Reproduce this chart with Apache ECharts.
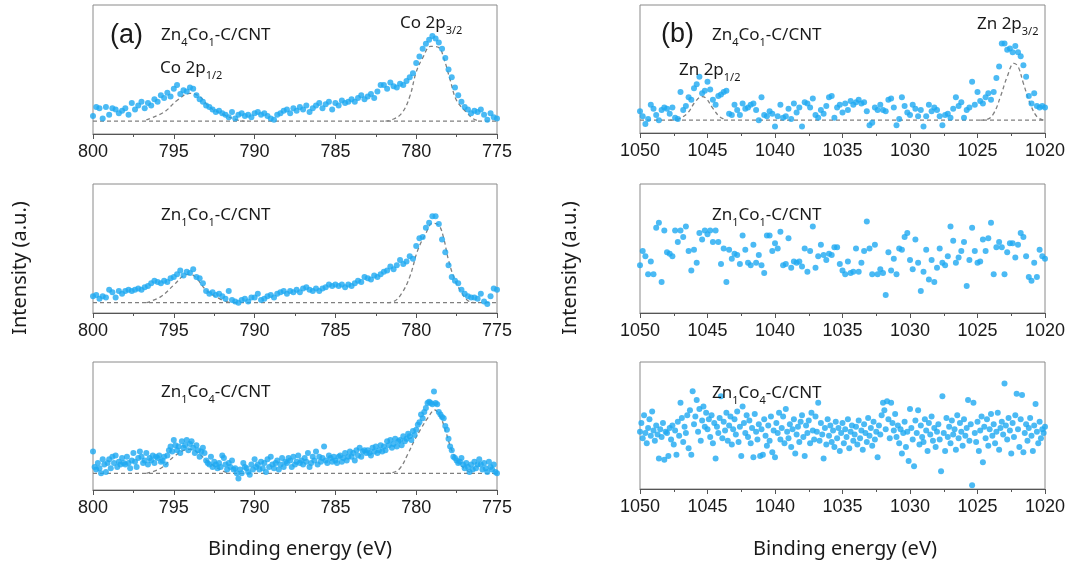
<!DOCTYPE html>
<html>
<head>
<meta charset="utf-8">
<script src="https://cdn.jsdelivr.net/npm/echarts@6/dist/echarts.min.js"></script>
<style>
  html, body { margin: 0; padding: 0; background: #fff; }
  #chart { width: 1074px; height: 568px; }
</style>
</head>
<body>
<div id="chart"></div>
<script>
// ---- data (intensity in a.u.) ----
// (a) Co 2p, 800 -> 775 eV
const coStart = 800
const coStep1 = 0.2
const coZn4Co1 = [
  14, 21, 20, 12, 21, 15, 20, 19, 16, 18,
  20, 15, 24, 19, 22, 25, 20, 24, 22, 27,
  25, 30, 28, 32, 29, 35, 38, 31, 34, 33,
  36, 35, 30, 27, 25, 22, 21, 19, 17, 18,
  16, 15, 13, 17, 12, 15, 16, 14, 15, 13,
  16, 17, 15, 16, 14, 12, 11, 15, 16, 18,
  19, 16, 20, 18, 21, 19, 22, 17, 20, 22,
  24, 20, 23, 25, 19, 24, 22, 26, 24, 25,
  27, 25, 28, 30, 27, 29, 31, 28, 33, 38,
  38, 35, 40, 37, 36, 39, 38, 41, 44, 47,
  55, 60, 66, 70, 73, 76, 74, 71, 66, 59,
  50, 44, 36, 30, 25, 21, 19, 16, 18, 17,
  19, 15, 11, 16, 13, 12
]
const coZn1Co1 = [
  13, 14, 11, 13, 12, 18, 16, 12, 17, 15,
  17, 18, 17, 18, 19, 18, 20, 21, 23, 25,
  24, 23, 25, 24, 27, 28, 30, 33, 29, 32,
  31, 34, 28, 27, 23, 17, 15, 16, 14, 15,
  13, 11, 17, 10, 9, 8, 10, 11, 9, 12,
  12, 15, 10, 11, 13, 14, 12, 15, 16, 17,
  15, 17, 16, 18, 16, 19, 20, 18, 17, 19,
  17, 19, 20, 22, 21, 22, 21, 22, 20, 22,
  21, 23, 25, 24, 28, 27, 26, 29, 28, 30,
  32, 33, 36, 34, 37, 41, 38, 40, 44, 42,
  52, 58, 59, 66, 70, 75, 75, 69, 57, 47,
  37, 28, 25, 23, 18, 15, 13, 12, 12, 11,
  15, 9, 7, 13, 19, 18
]
const coStep2 = 0.1
const coZn1Co4 = [
  30, 18, 16, 21, 17, 13, 24, 20, 14, 21,
  24, 17, 26, 21, 27, 18, 22, 20, 25, 21,
  20, 26, 21, 17, 23, 29, 22, 18, 25, 30,
  26, 21, 23, 29, 20, 25, 23, 27, 21, 26,
  25, 27, 22, 23, 26, 20, 27, 31, 34, 30,
  39, 35, 31, 34, 29, 38, 33, 35, 39, 31,
  36, 38, 33, 29, 35, 31, 26, 30, 33, 29,
  23, 21, 20, 26, 18, 22, 20, 17, 21, 18,
  27, 25, 20, 16, 21, 18, 23, 16, 17, 13,
  9, 16, 13, 21, 18, 17, 14, 12, 20, 16,
  24, 18, 20, 16, 22, 17, 21, 14, 24, 18,
  26, 20, 17, 21, 23, 16, 20, 25, 18, 22,
  21, 25, 23, 18, 26, 20, 22, 27, 21, 23,
  20, 25, 22, 29, 18, 21, 26, 23, 30, 20,
  26, 22, 25, 34, 23, 21, 27, 25, 22, 26,
  23, 21, 26, 27, 22, 25, 29, 23, 26, 30,
  26, 29, 23, 31, 27, 33, 26, 30, 31, 29,
  31, 29, 27, 33, 30, 34, 29, 31, 35, 30,
  34, 31, 38, 35, 39, 33, 36, 40, 34, 38,
  39, 35, 42, 38, 40, 44, 42, 39, 46, 43,
  47, 51, 53, 59, 56, 61, 64, 68, 69, 68,
  67, 77, 68, 67, 61, 59, 57, 56, 50, 47,
  40, 34, 31, 26, 25, 23, 21, 22, 25, 20,
  17, 21, 18, 14, 20, 16, 22, 17, 20, 24,
  20, 16, 21, 17, 14, 22, 18, 16, 20, 14, 13
]
// fitted peaks (dashed), [eV, a.u.]
const coFit1 = [
  [[796.7, 11], [795.6, 17], [794.8, 26], [794.0, 31.5], [793.4, 29], [792.8, 21], [791.9, 15], [791.1, 11], [790.6, 10]],
  [[781.9, 10], [781.5, 11], [780.9, 16], [780.4, 29], [780.0, 48], [779.6, 59], [779.1, 68], [778.6, 67], [778.3, 59], [777.9, 42], [777.5, 26], [776.9, 17], [776.5, 12], [776.1, 10]]
]
const coFit2 = [
  [[796.7, 8], [795.8, 12.7], [795.0, 21.7], [794.3, 29.5], [794.0, 30], [793.6, 27], [793.0, 17.8], [792.1, 10.6], [791.5, 8]],
  [[781.8, 8], [781.4, 8.8], [780.9, 15.2], [780.4, 28], [779.9, 48.8], [779.4, 61.8], [779.0, 69.5], [778.6, 68], [778.3, 58], [778.0, 41], [777.6, 25.6], [777.1, 14], [776.7, 8.8], [776.3, 8]]
]
const coFit3 = [
  [[796.7, 13], [795.8, 17], [795.0, 26], [794.3, 31.3], [794.0, 31.8], [793.6, 30], [793.0, 23.5], [792.1, 15.6], [791.5, 13]],
  [[781.9, 13], [781.5, 13.5], [781.0, 17], [780.5, 28.6], [780.1, 39], [779.7, 48], [779.3, 56], [778.85, 62.5], [778.5, 57], [778.2, 47], [777.8, 31], [777.4, 22], [776.9, 15.6], [776.5, 13]]
]
const coBase = [10, 8, 13]

// (b) Zn 2p, 1050 -> 1020 eV
const znStart = 1050
const znStep1 = 0.2
const znZn4Co1 = [
  17, 13, 7, 11, 22, 19, 14, 10, 18, 20,
  19, 15, 20, 12, 11, 32, 18, 21, 28, 26,
  35, 38, 44, 31, 33, 40, 34, 26, 22, 29,
  30, 32, 33, 15, 14, 22, 18, 14, 23, 19,
  20, 22, 23, 18, 10, 28, 14, 13, 17, 15,
  5, 13, 22, 12, 13, 19, 11, 23, 16, 20,
  5, 24, 23, 20, 27, 14, 12, 18, 15, 21,
  28, 29, 12, 20, 22, 16, 23, 18, 25, 22,
  24, 26, 23, 24, 17, 6, 8, 20, 18, 22,
  18, 17, 26, 27, 20, 6, 11, 28, 21, 16,
  14, 22, 19, 13, 18, 5, 13, 22, 17, 20,
  18, 13, 6, 14, 15, 12, 19, 28, 21, 24,
  12, 18, 20, 40, 22, 32, 25, 23, 28, 31,
  26, 32, 43, 52, 70, 70, 65, 66, 63, 68,
  63, 60, 53, 44, 29, 23, 31, 21, 20, 21,
  20
]
const znZn1Co1 = [
  37, 48, 44, 30, 40, 30, 66, 70, 24, 64,
  47, 46, 44, 64, 55, 64, 59, 67, 48, 33,
  49, 39, 62, 57, 64, 61, 64, 55, 64, 55,
  38, 50, 24, 49, 42, 46, 45, 38, 60, 49,
  39, 37, 53, 39, 45, 37, 31, 60, 60, 48,
  54, 50, 63, 37, 38, 58, 35, 40, 39, 40,
  36, 50, 32, 48, 67, 35, 44, 53, 45, 41,
  46, 45, 51, 51, 38, 33, 30, 40, 31, 32,
  50, 32, 39, 48, 71, 50, 30, 53, 30, 34,
  31, 14, 47, 33, 42, 30, 50, 49, 59, 62,
  41, 34, 57, 39, 17, 32, 49, 26, 41, 24,
  35, 50, 39, 37, 44, 67, 56, 39, 43, 48,
  55, 21, 41, 66, 48, 39, 40, 57, 48, 58,
  70, 30, 51, 55, 51, 30, 47, 54, 54, 43,
  53, 62, 59, 44, 28, 25, 39, 28, 49, 44,
  42
]
const znStep2 = 0.1
const znZn1Co4 = [
  45, 52, 40, 58, 44, 36, 48, 55, 42, 61,
  46, 38, 50, 43, 24, 47, 41, 52, 23, 45,
  44, 26, 48, 39, 50, 35, 46, 27, 53, 42,
  68, 56, 37, 49, 44, 58, 32, 62, 27, 77,
  51, 57, 70, 45, 63, 38, 54, 65, 49, 60,
  47, 55, 41, 58, 36, 52, 24, 49, 44, 56,
  73, 40, 53, 46, 60, 38, 50, 57, 35, 47,
  55, 43, 61, 37, 49, 26, 65, 52, 44, 58,
  41, 54, 36, 48, 25, 59, 45, 39, 51, 26,
  47, 27, 55, 42, 34, 50, 38, 57, 29, 46,
  25, 52, 44, 60, 39, 48, 57, 36, 63, 45,
  40, 51, 33, 47, 55, 28, 43, 49, 37, 53,
  58, 41, 26, 50, 44, 54, 36, 60, 46, 39,
  57, 45, 68, 38, 52, 43, 24, 48, 35, 55,
  42, 50, 37, 46, 33, 53, 40, 48, 30, 44,
  52, 36, 47, 41, 55, 32, 45, 50, 38, 43,
  49, 35, 54, 40, 46, 31, 51, 44, 37, 56,
  42, 48, 34, 53, 39, 45, 25, 50, 43, 58,
  68, 62, 47, 69, 55, 40, 68, 52, 46, 59,
  41, 50, 36, 47, 28, 44, 53, 33, 45, 22,
  63, 48, 39, 18, 54, 44, 62, 35, 50, 41,
  37, 55, 46, 30, 52, 43, 57, 38, 48, 33,
  45, 51, 39, 14, 73, 44, 30, 56, 41, 49,
  36, 54, 43, 47, 31, 58, 40, 52, 45, 34,
  55, 42, 48, 70, 38, 51, 3, 68, 44, 37,
  53, 30, 46, 57, 21, 49, 40, 55, 34, 47,
  59, 42, 51, 36, 45, 60, 31, 48, 53, 43,
  83, 50, 39, 56, 46, 28, 52, 41, 58, 75,
  47, 33, 55, 74, 29, 44, 51, 38, 48, 56,
  42, 30, 50, 67, 45, 36, 53, 40, 47, 44,
  49
]
const znFit1 = [
  [[1047.8, 10], [1047.3, 10.5], [1046.5, 15.3], [1045.9, 24.5], [1045.4, 28.4], [1045.1, 27], [1044.6, 19.3], [1044.1, 12.8], [1043.6, 10]],
  [[1024.8, 10], [1024.3, 10.5], [1023.8, 15.3], [1023.3, 28.4], [1022.8, 44], [1022.3, 54.4], [1022.0, 52], [1021.6, 38.8], [1021.1, 23], [1020.6, 12.8], [1020.1, 10]]
]
const znBase = 10

const coTicks = [800, 795, 790, 785, 780, 775]
const znTicks = [1050, 1045, 1040, 1035, 1030, 1025, 1020]

// ---- chart ----
const BLUE = '#1ea9f1'
const GREY = '#808080'
const TXT = '#1a1a1a'

function toPts (start, step, vals) {
  return vals.map((v, i) => [+(start - i * step).toFixed(2), v])
}

function sub (s) { return '{s|' + s + '}' }

function label (x, y, txt, size) {
  return {
    type: 'text', x, y, z: 10,
    style: {
      text: txt,
      font: (size || 17) + 'px "Noto Sans"',
      fill: TXT,
      verticalAlign: 'middle',
      rich: {
        s: { fontSize: 11, fontFamily: 'Noto Sans', fill: TXT, verticalAlign: 'bottom', lineHeight: 26, padding: [6, 0, 0, 0] }
      }
    }
  }
}

function scatter (idx, data) {
  return {
    type: 'scatter', xAxisIndex: idx, yAxisIndex: idx, data,
    symbolSize: 6, itemStyle: { color: BLUE }, z: 3, silent: true
  }
}

function dashed (idx, data, smooth) {
  return {
    type: 'line', xAxisIndex: idx, yAxisIndex: idx, data,
    smooth: smooth ? 0.4 : false, showSymbol: false, symbol: 'none', z: 2, silent: true,
    lineStyle: { color: GREY, width: 1.3, type: [4, 3] }
  }
}

const grids = [
  { left: 93, top: 5, width: 404, height: 129 },
  { left: 93, top: 184, width: 404, height: 129 },
  { left: 93, top: 362, width: 404, height: 128 },
  { left: 640, top: 5, width: 405, height: 128 },
  { left: 640, top: 184, width: 405, height: 129 },
  { left: 640, top: 362, width: 405, height: 127 }
].map(g => Object.assign({ show: true, borderColor: '#8a8a8a', borderWidth: 1 }, g))

const xAxes = grids.map((g, i) => {
  const co = i < 3
  return {
    type: 'value', gridIndex: i, inverse: true,
    min: co ? coTicks[coTicks.length - 1] : znTicks[znTicks.length - 1],
    max: co ? coTicks[0] : znTicks[0],
    interval: 5,
    axisLine: { show: true, onZero: false, lineStyle: { color: '#555', width: 1 } },
    axisTick: { show: true, length: 5, lineStyle: { color: '#555' } },
    minorTick: { show: true, splitNumber: 2, length: 3, lineStyle: { color: '#555' } },
    splitLine: { show: false },
    minorSplitLine: { show: false },
    axisLabel: {
      color: TXT, fontSize: 18, fontFamily: 'Liberation Sans', margin: 9,
      showMinLabel: true, showMaxLabel: true,
      formatter: v => String(v)
    }
  }
})

const yAxes = grids.map((g, i) => ({
  type: 'value', gridIndex: i, min: 0, max: 100, show: false
}))

const series = [
  scatter(0, toPts(coStart, coStep1, coZn4Co1)),
  scatter(1, toPts(coStart, coStep1, coZn1Co1)),
  scatter(2, toPts(coStart, coStep2, coZn1Co4)),
  scatter(3, toPts(znStart, znStep1, znZn4Co1)),
  scatter(4, toPts(znStart, znStep1, znZn1Co1)),
  scatter(5, toPts(znStart, znStep2, znZn1Co4))
]
;[coFit1, coFit2, coFit3].forEach((fits, i) => {
  series.push(dashed(i, [[800, coBase[i]], [775, coBase[i]]], false))
  fits.forEach(f => series.push(dashed(i, f, true)))
})
series.push(dashed(3, [[1050, znBase], [1020, znBase]], false))
znFit1.forEach(f => series.push(dashed(3, f, true)))

const graphic = [
  { type: 'text', x: 110, y: 36, z: 10, style: { text: '(a)', font: '27px "Liberation Sans"', fill: TXT, verticalAlign: 'middle' } },
  { type: 'text', x: 661, y: 35, z: 10, style: { text: '(b)', font: '27px "Liberation Sans"', fill: TXT, verticalAlign: 'middle' } },
  label(161, 35, 'Zn' + sub('4') + 'Co' + sub('1') + '-C/CNT'),
  label(160, 68, 'Co 2p' + sub('1/2')),
  label(400, 23, 'Co 2p' + sub('3/2')),
  label(161, 215, 'Zn' + sub('1') + 'Co' + sub('1') + '-C/CNT'),
  label(161, 392, 'Zn' + sub('1') + 'Co' + sub('4') + '-C/CNT'),
  label(712, 35, 'Zn' + sub('4') + 'Co' + sub('1') + '-C/CNT'),
  label(679, 70, 'Zn 2p' + sub('1/2')),
  label(977, 24, 'Zn 2p' + sub('3/2')),
  label(712, 215, 'Zn' + sub('1') + 'Co' + sub('1') + '-C/CNT'),
  label(712, 393, 'Zn' + sub('1') + 'Co' + sub('4') + '-C/CNT'),
  { type: 'text', x: 300, y: 549, style: { text: 'Binding energy (eV)', font: '20px "Noto Sans"', fill: TXT, align: 'center', verticalAlign: 'middle' } },
  { type: 'text', x: 845, y: 549, style: { text: 'Binding energy (eV)', font: '20px "Noto Sans"', fill: TXT, align: 'center', verticalAlign: 'middle' } },
  { type: 'text', x: 20, y: 268, rotation: Math.PI / 2, style: { text: 'Intensity (a.u.)', font: '20px "Noto Sans"', fill: TXT, align: 'center', verticalAlign: 'middle' } },
  { type: 'text', x: 570, y: 268, rotation: Math.PI / 2, style: { text: 'Intensity (a.u.)', font: '20px "Noto Sans"', fill: TXT, align: 'center', verticalAlign: 'middle' } }
]

const chart = echarts.init(document.getElementById('chart'), null, { renderer: 'canvas' })
chart.setOption({
  animation: false,
  backgroundColor: '#fff',
  grid: grids,
  xAxis: xAxes,
  yAxis: yAxes,
  series,
  graphic
})
</script>
</body>
</html>
